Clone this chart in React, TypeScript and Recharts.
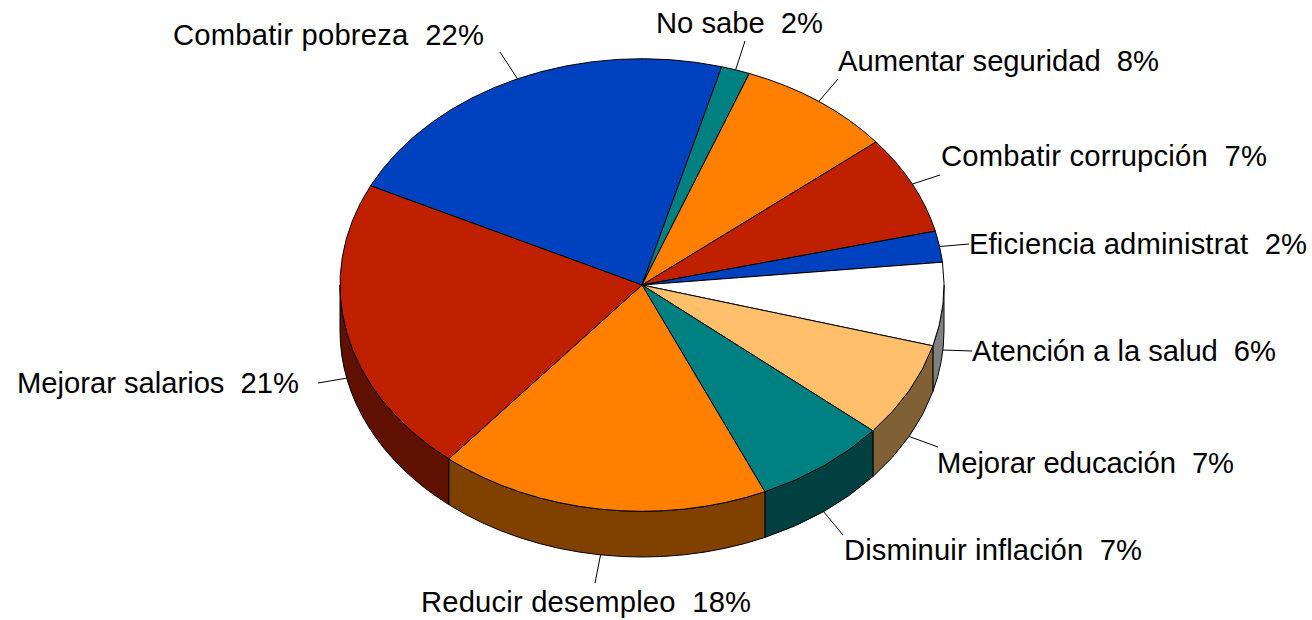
import React from "react";
import { PieChart, Pie, Cell } from "recharts";

const categories = ["Combatir pobreza", "No sabe", "Aumentar seguridad", "Combatir corrupción", "Eficiencia administrat", "Atención a la salud", "Mejorar educación", "Disminuir inflación", "Reducir desempleo", "Mejorar salarios"];
const shares = [22.03, 1.53, 8.33, 7.06, 2.22, 5.94, 6.81, 7.19, 17.72, 21.17];
const percentLabels = ["22%", "2%", "8%", "7%", "2%", "6%", "7%", "7%", "18%", "21%"];
const topColors = ["#0041bf", "#008080", "#ff8000", "#bf2000", "#0041bf", "#ffffff", "#ffbf6b", "#008080", "#ff8000", "#bf2000"];
const wallColors = ["#002060", "#004040", "#804000", "#5f1000", "#002060", "#808080", "#806035", "#004040", "#804000", "#5f1000"];
const labelX = [173, 656, 838, 941, 969, 972, 937, 844, 421, 17];
const labelY = [45, 33, 71, 166, 254, 361, 473, 560, 612, 393];
const labelWidth = [311, 167, 321, 326, 338, 304, 297, 298, 330, 282];
const leaderEndX = [500, 745, 838, 940, 969, 972, 938, 843, 595, 318];
const leaderEndY = [52, 41, 79, 175, 244, 351, 447, 535, 583, 383];

const data = categories.map((name, i) => ({ name, value: shares[i], pct: percentLabels[i] }));

const CX = 642;
const CY = 285;
const RX = 302;
const RY = 226.3;
const DEPTH = 45.7;
const START = 154;

const rad = Math.PI / 180;
const px = (t: number) => CX + RX * Math.cos(t * rad);
const py = (t: number) => CY - RY * Math.sin(t * rad);

function TopSlice(p: any) {
  const { startAngle: a, endAngle: b, fill } = p;
  const large = Math.abs(a - b) > 180 ? 1 : 0;
  const d = `M${CX},${CY} L${px(a)},${py(a)} A${RX},${RY} 0 ${large} 1 ${px(b)},${py(b)} Z`;
  return <path d={d} fill={fill} stroke="#000" strokeWidth={1} strokeLinejoin="round" />;
}

function WallSlice(p: any) {
  const { startAngle, endAngle, fill } = p;
  const hi = Math.max(startAngle, endAngle);
  const lo = Math.min(startAngle, endAngle);
  const a = Math.min(hi, 0);
  const b = Math.max(lo, -180);
  if (a <= b) return <g />;
  const d = `M${px(a)},${py(a)} A${RX},${RY} 0 0 1 ${px(b)},${py(b)} L${px(b)},${py(b) + DEPTH} A${RX},${RY} 0 0 0 ${px(a)},${py(a) + DEPTH} Z`;
  return <path d={d} fill={fill} stroke="#000" strokeWidth={1} strokeLinejoin="round" />;
}

function SliceLabel(p: any) {
  const { index, midAngle } = p;
  let m = midAngle;
  while (m > 180) m -= 360;
  while (m < -180) m += 360;
  const lower = m < 0;
  const sx = px(m);
  const sy = py(m) + (lower ? DEPTH : 0);
  return (
    <g>
      <line x1={sx} y1={sy} x2={leaderEndX[index]} y2={leaderEndY[index]} stroke="#000" strokeWidth={1} />
      <text
        x={labelX[index]}
        y={labelY[index]}
        fill="#000"
        fontFamily="'Liberation Sans', Arial, sans-serif"
        fontSize={29.2}
        textLength={labelWidth[index]}
        lengthAdjust="spacing"
        style={{ whiteSpace: "pre" }}
      >
        {`${categories[index]}  ${percentLabels[index]}`}
      </text>
    </g>
  );
}

export default function App() {
  return (
    <div style={{ position: "absolute", left: 0, top: 0, width: 1312, height: 620, background: "#fff" }}>
      <PieChart width={1312} height={620} margin={{ top: 0, right: 0, bottom: 0, left: 0 }}>
        <Pie
          data={data}
          dataKey="value"
          nameKey="name"
          cx={CX}
          cy={CY}
          outerRadius={RX}
          startAngle={START}
          endAngle={START - 360}
          paddingAngle={0}
          isAnimationActive={false}
          label={false}
          labelLine={false}
          shape={WallSlice}
        >
          {data.map((d, i) => (
            <Cell key={d.name} fill={wallColors[i]} />
          ))}
        </Pie>
        <Pie
          data={data}
          dataKey="value"
          nameKey="name"
          cx={CX}
          cy={CY}
          outerRadius={RX}
          startAngle={START}
          endAngle={START - 360}
          paddingAngle={0}
          isAnimationActive={false}
          label={SliceLabel}
          labelLine={false}
          shape={TopSlice}
        >
          {data.map((d, i) => (
            <Cell key={d.name} fill={topColors[i]} />
          ))}
        </Pie>
      </PieChart>
    </div>
  );
}
